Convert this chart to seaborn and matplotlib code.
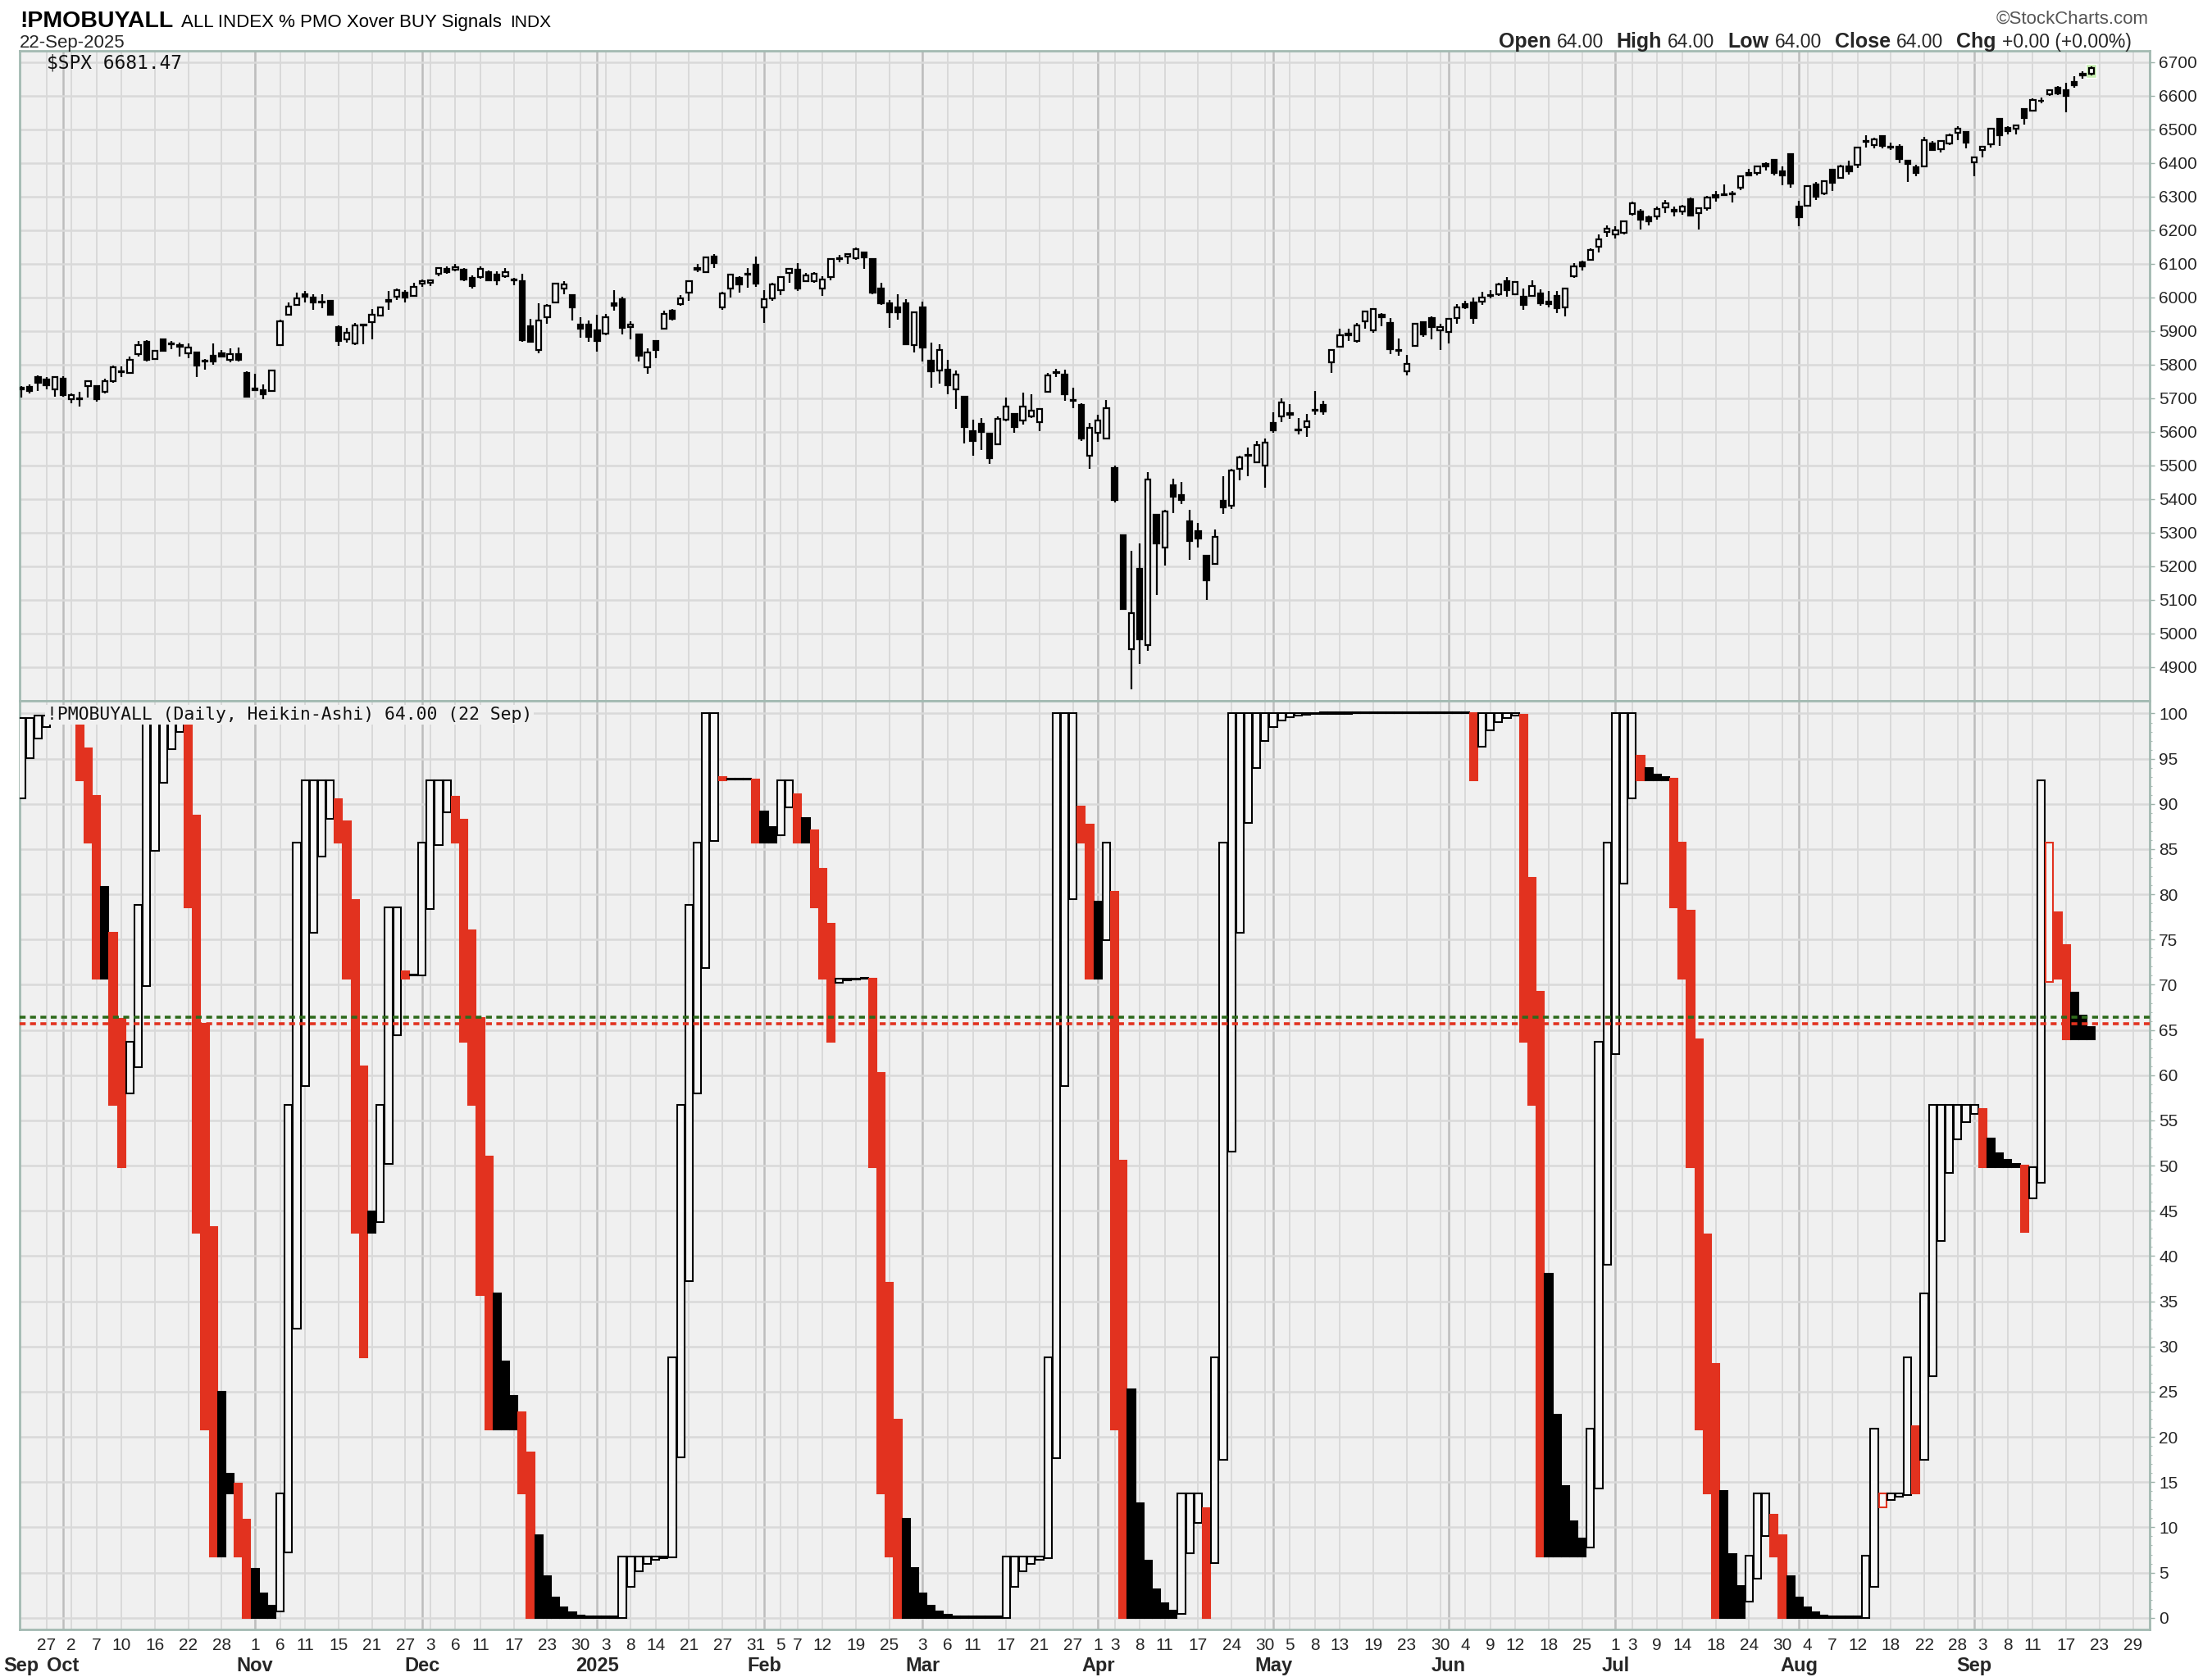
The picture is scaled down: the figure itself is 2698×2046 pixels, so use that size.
import numpy as np
import pandas as pd
import seaborn as sns
import matplotlib
matplotlib.use("Agg")
import matplotlib.pyplot as plt
import matplotlib.transforms as mtransforms

# ---- sessions on the chart -------------------------------------------------
holidays = ['2024-11-28', '2024-12-25', '2025-01-01', '2025-01-09', '2025-01-20',
            '2025-02-17', '2025-04-18', '2025-05-26', '2025-06-19', '2025-07-04',
            '2025-09-01']
first_day = '2024-09-24'
last_axis_day = '2025-09-30'

tick_dates = ['2024-09-27', '2024-10-02', '2024-10-07', '2024-10-10', '2024-10-16',
              '2024-10-22', '2024-10-28', '2024-11-01', '2024-11-06', '2024-11-11',
              '2024-11-15', '2024-11-21', '2024-11-27', '2024-12-03', '2024-12-06',
              '2024-12-11', '2024-12-17', '2024-12-23', '2024-12-30', '2025-01-03',
              '2025-01-08', '2025-01-14', '2025-01-21', '2025-01-27', '2025-01-31',
              '2025-02-05', '2025-02-07', '2025-02-12', '2025-02-19', '2025-02-25',
              '2025-03-03', '2025-03-06', '2025-03-11', '2025-03-17', '2025-03-21',
              '2025-03-27', '2025-04-01', '2025-04-03', '2025-04-08', '2025-04-11',
              '2025-04-17', '2025-04-24', '2025-04-30', '2025-05-05', '2025-05-08',
              '2025-05-13', '2025-05-19', '2025-05-23', '2025-05-30', '2025-06-04',
              '2025-06-09', '2025-06-12', '2025-06-18', '2025-06-25', '2025-07-01',
              '2025-07-03', '2025-07-09', '2025-07-14', '2025-07-18', '2025-07-24',
              '2025-07-30', '2025-08-04', '2025-08-07', '2025-08-12', '2025-08-18',
              '2025-08-22', '2025-08-28', '2025-09-03', '2025-09-08', '2025-09-11',
              '2025-09-17', '2025-09-23', '2025-09-29']
month_dates = ['2024-09-24', '2024-10-01', '2024-11-01', '2024-12-02', '2025-01-02',
               '2025-02-03', '2025-03-03', '2025-04-01', '2025-05-01', '2025-06-02',
               '2025-07-01', '2025-08-01', '2025-09-02']
month_names = ['Sep', 'Oct', 'Nov', 'Dec', '2025', 'Feb', 'Mar', 'Apr', 'May', 'Jun',
               'Jul', 'Aug', 'Sep']

# ---- $SPX daily candles (Sep 24 2024 .. Sep 22 2025) -----------------------
spx_open = [
    5727, 5733, 5762, 5756, 5727,
    5758, 5698, 5696, 5737, 5737, 5719, 5751, 5778, 5775, 5830, 5867, 5816, 5875, 5860,
    5857, 5833, 5835, 5810, 5826, 5833, 5814, 5832, 5775,
    5723, 5725, 5722, 5858, 5947, 5977, 6009, 6000, 5985, 5989, 5912, 5875, 5863, 5917,
    5927, 5945, 5992, 6001, 6015, 6004,
    6040, 6042, 6069, 6085, 6081, 6083, 6058, 6060, 6074, 6068, 6063, 6053, 6048, 5913,
    5843, 5941, 5985, 6025, 6007, 5920, 5920,
    5903, 5892, 5983, 5994, 5911, 5890, 5791, 5869, 5906, 5961, 5979, 6015, 6081, 6076,
    6121, 5970, 6026, 6058, 6068, 6096,
    5969, 5998, 6021, 6073, 6083, 6048, 6049, 6026, 6060, 6115, 6121, 6117, 6134, 6115,
    6027, 5982, 5971, 5982, 5857,
    5969, 5811, 5782, 5785, 5726, 5705, 5603, 5624, 5594, 5563, 5635, 5654, 5633, 5646,
    5630, 5719, 5775, 5771, 5695, 5679, 5528,
    5597, 5581, 5492, 5292, 4953, 5193, 4967, 5353, 5255, 5441, 5411, 5335, 5305, 5232,
    5207, 5395, 5381, 5489, 5529, 5509, 5499,
    5626, 5645, 5656, 5605, 5615, 5663, 5679, 5807, 5854, 5887, 5869, 5929, 5903, 5947,
    5924, 5841, 5781, 5855, 5925, 5939, 5903,
    5897, 5939, 5979, 5985, 5988, 6005, 6010, 6049, 6010, 6001, 6005, 6012, 5987, 6005,
    5970, 6062, 6105, 6112, 6151, 6194,
    6187, 6193, 6248, 6256, 6239, 6241, 6267, 6256, 6255, 6292, 6251, 6264, 6305, 6304,
    6307, 6327, 6369, 6370, 6397, 6409, 6374, 6427,
    6271, 6272, 6336, 6310, 6380, 6356, 6389, 6395, 6462, 6453, 6479, 6446, 6449, 6406,
    6387, 6389, 6458, 6441, 6458, 6489, 6492,
    6401, 6437, 6456, 6530, 6505, 6501, 6560, 6554, 6584, 6603, 6624, 6615, 6641, 6661,
    6665]
spx_high = [
    5736, 5741, 5767, 5764, 5763,
    5765, 5714, 5718, 5753, 5739, 5757, 5796, 5795, 5823, 5871, 5872, 5843, 5878, 5870,
    5866, 5863, 5835, 5817, 5862, 5843, 5848, 5851, 5780,
    5773, 5741, 5784, 5934, 5984, 6013, 6018, 6010, 6009, 5993, 5916, 5909, 5924, 5921,
    5964, 5973, 6020, 6025, 6021, 6044,
    6053, 6053, 6089, 6091, 6100, 6088, 6066, 6093, 6080, 6078, 6086, 6058, 6071, 5936,
    5982, 5979, 6040, 6049, 6007, 5941, 5930,
    5949, 5950, 6022, 6001, 5928, 5890, 5848, 5870, 5961, 5964, 6007, 6051, 6100, 6119,
    6128, 6017, 6070, 6063, 6086, 6121,
    6022, 6042, 6062, 6084, 6101, 6073, 6076, 6063, 6116, 6127, 6129, 6147, 6134, 6115,
    6044, 5993, 6009, 5994, 5959,
    5987, 5865, 5861, 5813, 5783, 5705, 5636, 5642, 5598, 5645, 5703, 5655, 5716, 5711,
    5671, 5775, 5787, 5786, 5732, 5685, 5627,
    5651, 5695, 5500, 5293, 5246, 5267, 5481, 5353, 5368, 5460, 5450, 5367, 5328, 5232,
    5310, 5469, 5489, 5528, 5553, 5572, 5581,
    5659, 5700, 5683, 5641, 5654, 5721, 5692, 5845, 5907, 5906, 5924, 5958, 5968, 5954,
    5939, 5878, 5829, 5922, 5929, 5944, 5922,
    5938, 5981, 5990, 5999, 6017, 6022, 6044, 6060, 6046, 6026, 6051, 6024, 6018, 6018,
    6028, 6101, 6109, 6146, 6187, 6215,
    6211, 6228, 6284, 6262, 6243, 6269, 6290, 6269, 6274, 6296, 6268, 6301, 6316, 6336,
    6316, 6360, 6381, 6390, 6401, 6410, 6390, 6427,
    6288, 6330, 6344, 6348, 6380, 6395, 6407, 6446, 6481, 6474, 6482, 6459, 6456, 6408,
    6394, 6478, 6466, 6466, 6486, 6508, 6492,
    6416, 6450, 6502, 6533, 6508, 6513, 6563, 6592, 6594, 6616, 6627, 6638, 6657, 6672,
    6686]
spx_low = [
    5702, 5713, 5722, 5727, 5704,
    5704, 5684, 5674, 5702, 5690, 5713, 5745, 5764, 5773, 5825, 5808, 5816, 5840, 5846,
    5824, 5820, 5762, 5784, 5799, 5823, 5806, 5810, 5702,
    5723, 5696, 5722, 5858, 5947, 5976, 5984, 5962, 5968, 5946, 5856, 5866, 5857, 5860,
    5876, 5943, 5963, 5993, 5985, 6003,
    6030, 6033, 6062, 6071, 6077, 6047, 6027, 6055, 6050, 6035, 6059, 6036, 5867, 5866,
    5833, 5921, 5983, 6008, 5932, 5879, 5868,
    5838, 5888, 5961, 5890, 5874, 5809, 5773, 5819, 5906, 5932, 5976, 5989, 6076, 6075,
    6088, 5962, 6000, 6013, 6029, 6031,
    5923, 5990, 6007, 6044, 6020, 6048, 6042, 6004, 6051, 6103, 6100, 6111, 6084, 6009,
    5977, 5909, 5933, 5858, 5837,
    5810, 5732, 5743, 5712, 5667, 5565, 5529, 5547, 5505, 5563, 5631, 5598, 5622, 5640,
    5603, 5719, 5764, 5693, 5670, 5572, 5489,
    5571, 5578, 5390, 5070, 4835, 4910, 4949, 5115, 5203, 5358, 5386, 5220, 5255, 5101,
    5207, 5356, 5371, 5455, 5468, 5506, 5433,
    5597, 5629, 5639, 5592, 5585, 5651, 5651, 5776, 5854, 5871, 5865, 5907, 5895, 5915,
    5830, 5826, 5767, 5855, 5882, 5875, 5843,
    5862, 5922, 5966, 5921, 5978, 5996, 6004, 6002, 6006, 5963, 6005, 5974, 5971, 5952,
    5943, 6059, 6079, 6109, 6133, 6180,
    6175, 6188, 6243, 6201, 6214, 6230, 6251, 6241, 6246, 6242, 6201, 6257, 6285, 6303,
    6281, 6318, 6360, 6363, 6376, 6363, 6333, 6327,
    6212, 6272, 6289, 6305, 6315, 6356, 6364, 6385, 6445, 6442, 6444, 6439, 6400, 6343,
    6361, 6386, 6438, 6431, 6452, 6468, 6444,
    6360, 6415, 6446, 6451, 6485, 6484, 6513, 6552, 6578, 6600, 6601, 6551, 6624, 6651,
    6660]
spx_close = [
    5732, 5722, 5745, 5738, 5762,
    5709, 5709, 5700, 5751, 5696, 5751, 5792, 5780, 5815, 5859, 5815, 5842, 5841, 5864,
    5853, 5851, 5797, 5809, 5808, 5823, 5832, 5813, 5705,
    5729, 5712, 5783, 5929, 5973, 5996, 6001, 5984, 5985, 5949, 5871, 5894, 5917, 5917,
    5949, 5970, 5987, 6021, 5999, 6032,
    6047, 6050, 6087, 6075, 6090, 6053, 6034, 6085, 6051, 6051, 6074, 6051, 5872, 5867,
    5931, 5974, 6040, 6038, 5971, 5907, 5882,
    5869, 5942, 5975, 5909, 5918, 5827, 5837, 5843, 5950, 5937, 5997, 6049, 6086, 6119,
    6101, 6012, 6068, 6039, 6071, 6041,
    5994, 6038, 6061, 6084, 6026, 6066, 6069, 6052, 6115, 6115, 6129, 6144, 6118, 6013,
    5983, 5955, 5956, 5861, 5955,
    5850, 5779, 5843, 5739, 5770, 5615, 5572, 5599, 5522, 5639, 5675, 5615, 5676, 5663,
    5668, 5768, 5777, 5712, 5693, 5581, 5612,
    5633, 5671, 5397, 5074, 5062, 4983, 5457, 5268, 5363, 5406, 5397, 5276, 5283, 5158,
    5288, 5376, 5485, 5525, 5529, 5561, 5569,
    5604, 5687, 5650, 5607, 5631, 5664, 5660, 5844, 5886, 5892, 5917, 5958, 5964, 5940,
    5845, 5842, 5802, 5922, 5889, 5912, 5912,
    5936, 5970, 5971, 5939, 6000, 6006, 6038, 6022, 6045, 5977, 6033, 5983, 5981, 5968,
    6025, 6092, 6092, 6141, 6173, 6205,
    6198, 6227, 6279, 6230, 6226, 6263, 6280, 6260, 6269, 6244, 6264, 6297, 6297, 6306,
    6309, 6359, 6363, 6389, 6390, 6371, 6362, 6339,
    6238, 6330, 6299, 6345, 6340, 6389, 6374, 6446, 6466, 6469, 6450, 6449, 6411, 6396,
    6370, 6467, 6439, 6466, 6481, 6502, 6460,
    6416, 6448, 6502, 6482, 6495, 6512, 6532, 6587, 6584, 6615, 6607, 6600, 6631, 6664,
    6681]

# ---- !PMOBUYALL daily value (= Heikin-Ashi close) --------------------------
pmo_first_open = 90.6
pmo_close = [
    99.5, 99.5, 99.8, 99.8, 99.8, 99.8, 99.8, 92.6, 85.7, 70.7,
    70.7, 56.7, 49.8, 63.7, 78.8, 99.8, 99.8, 99.8, 99.8, 99.8,
    78.6, 42.6, 20.8, 6.8, 6.8, 13.8, 6.8, 0, 0, 0,
    0, 13.8, 56.7, 85.7, 92.6, 92.6, 92.6, 92.6, 85.7, 70.7,
    42.6, 28.8, 42.6, 56.7, 78.6, 78.6, 70.7, 71.0, 85.7, 92.6,
    92.6, 92.6, 85.7, 63.7, 56.7, 35.7, 20.8, 20.8, 20.8, 20.8,
    13.8, 0, 0, 0, 0, 0, 0, 0, 0, 0,
    0, 0, 6.8, 6.8, 6.8, 6.8, 6.8, 6.8, 28.8, 56.7,
    78.8, 85.7, 100, 100, 92.6, 92.7, 92.7, 92.7, 85.7, 85.7,
    85.7, 92.6, 92.6, 85.7, 85.7, 78.6, 70.7, 63.7, 70.7, 70.7,
    70.7, 70.7, 49.8, 13.8, 6.8, 0, 0, 0, 0, 0,
    0, 0, 0, 0, 0, 0, 0, 0, 6.8, 6.8,
    6.8, 6.8, 6.8, 28.8, 100, 100, 100, 85.7, 70.7, 70.7,
    85.7, 20.8, 0, 0, 0, 0, 0, 0, 0, 13.8,
    13.8, 13.8, 0, 28.8, 85.7, 100, 100, 100, 100, 100,
    100, 100, 100, 100, 100, 100, 100, 100, 100, 100,
    100, 100, 100, 100, 100, 100, 100, 100, 100, 100,
    100, 100, 100, 100, 92.6, 100, 100, 100, 100, 100,
    63.7, 56.7, 6.8, 6.8, 6.8, 6.8, 6.8, 6.8, 20.9, 63.7,
    85.7, 100, 100, 100, 92.6, 92.6, 92.6, 92.6, 78.6, 70.7,
    49.8, 20.8, 13.8, 0, 0, 0, 0, 6.9, 13.8, 13.8,
    6.8, 0, 0, 0, 0, 0, 0, 0, 0, 0,
    0, 6.9, 20.9, 13.8, 13.8, 13.8, 28.8, 13.8, 35.9, 56.7,
    56.7, 56.7, 56.7, 56.7, 56.7, 49.8, 49.8, 49.8, 49.8, 49.8,
    42.7, 49.8, 92.6, 85.7, 70.7, 64, 64, 64, 64]
ref_green = 66.4
ref_red = 65.7

# ---- colours ---------------------------------------------------------------
PANEL = '#f0f0f0'
GRID = '#d9d9d9'
MONTH_GRID = '#bdbdbd'
BORDER = '#a3bab2'
RED = '#e2321f'
HOLLOW = '#f6f6f6'

sns.set_style("white")
plt.rcParams['font.family'] = ['Liberation Sans Narrow', 'Liberation Sans', 'DejaVu Sans']

sessions = pd.bdate_range(first_day, last_axis_day)
sessions = sessions[~sessions.isin(pd.to_datetime(holidays))]
pos = {d: i for i, d in enumerate(sessions)}
tick_pos = [pos[pd.Timestamp(d)] for d in tick_dates]
tick_lab = [str(pd.Timestamp(d).day) for d in tick_dates]
month_pos = [pos[pd.Timestamp(d)] for d in month_dates]

fig = plt.figure(figsize=(26.98, 20.46), dpi=100)
ax1 = fig.add_axes([0.0089, 0.5821, 0.9629, 0.3876])
ax2 = fig.add_axes([0.0089, 0.0283, 0.9629, 0.5538], sharex=ax1)

for ax in (ax1, ax2):
    ax.set_facecolor(PANEL)
    for s in ax.spines.values():
        s.set_color(BORDER)
        s.set_linewidth(2)
    for p in tick_pos:
        ax.axvline(p, color=GRID, lw=1.4, zorder=0)
    for p in month_pos[1:]:
        ax.axvline(p, color=MONTH_GRID, lw=1.8, zorder=0)
    ax.yaxis.tick_right()
    ax.grid(axis='y', color=GRID, lw=1.8, zorder=0)
    ax.set_axisbelow(True)
    ax.tick_params(axis='y', which='major', length=4, width=1, color='#9bb0a8',
                   labelsize=15, pad=4)

ax1.set_xlim(-0.2, 255.0)

# ---- upper panel: $SPX candles -------------------------------------------
o = np.array(spx_open, float)
h = np.array(spx_high, float)
l = np.array(spx_low, float)
c = np.array(spx_close, float)
xs = np.arange(len(c))
ax1.bar(xs[-1], 42, bottom=6652, width=1.3, color='#c8f0b2', zorder=1)
ax1.vlines(xs, l, h, color='black', lw=1.6, zorder=3)
filled = c < o
ax1.bar(xs, np.maximum(np.abs(c - o), 1.5), bottom=np.minimum(o, c), width=0.62,
        color=np.where(filled, 'black', HOLLOW), edgecolor='black', linewidth=1.6, zorder=4)
ax1.set_ylim(4800, 6733)
ax1.set_yticks(np.arange(4900, 6701, 100))
ax1.tick_params(axis='x', bottom=False, labelbottom=False)
ax1.text(0.0126, 0.981, '$SPX 6681.47', transform=ax1.transAxes, family='DejaVu Sans Mono',
         fontsize=16.5, va='center', ha='left', color='#111111')

# ---- lower panel: Heikin-Ashi bars ---------------------------------------
hc = np.array(pmo_close, float)
ho = np.empty_like(hc)
ho[0] = pmo_first_open
for i in range(1, len(hc)):
    ho[i] = (ho[i - 1] + hc[i - 1]) / 2
prev = np.r_[hc[0], hc[:-1]]
is_red = hc < prev
is_up = hc >= ho
faces = [HOLLOW if up else (RED if r else 'black') for up, r in zip(is_up, is_red)]
edges = [RED if r else 'black' for r in is_red]
xp = np.arange(len(hc))
ax2.bar(xp, np.maximum(np.abs(hc - ho), 0.12), bottom=np.minimum(ho, hc), width=0.9,
        color=faces, edgecolor=edges, linewidth=1.5, zorder=4)
ax2.axhline(ref_green, color='#2f6a1c', lw=2.6, ls=(0, (2.0, 1.5)), zorder=5)
ax2.axhline(ref_red, color=RED, lw=2.6, ls=(0, (2.0, 1.5)), zorder=5)
ax2.set_ylim(-1.3, 101.4)
ax2.set_yticks(np.arange(0, 101, 5))
ax2.set_yticks(np.arange(0, 101, 1), minor=True)
ax2.tick_params(axis='y', which='minor', length=2, color='#9bb0a8', right=True)
ax2.text(0.0126, 0.985, '!PMOBUYALL (Daily, Heikin-Ashi) 64.00 (22 Sep)',
         transform=ax2.transAxes, family='DejaVu Sans Mono', fontsize=15.4, va='center',
         ha='left', color='#111111', zorder=10,
         bbox=dict(facecolor=PANEL, edgecolor='none', pad=1.5))

ax2.set_xticks(tick_pos)
ax2.set_xticklabels(tick_lab)
ax2.tick_params(axis='x', length=4, width=1, color='#9bb0a8', labelsize=15, pad=3)
trans = mtransforms.blended_transform_factory(ax2.transData, ax2.transAxes)
for p, name in zip(month_pos, month_names):
    ax2.annotate(name, xy=(p, 0), xycoords=trans, xytext=(0, -24),
                 textcoords='offset points', ha='center', va='top',
                 fontsize=17, fontweight='bold', annotation_clip=False)

# ---- header --------------------------------------------------------------
renderer = fig.canvas.get_renderer()
W = fig.bbox.width


def put_row(pieces, x0, y, gap_px):
    # lay out text pieces left to right, measuring each one
    x = x0
    for txt, size, bold, color in pieces:
        t = fig.text(x, y, txt, fontsize=size, fontweight='bold' if bold else 'normal',
                     va='baseline', color=color)
        bb = t.get_window_extent(renderer)
        x = bb.x1 / W + gap_px / W
    return x


put_row([('!PMOBUYALL', 20.5, True, 'black'),
         ('ALL INDEX % PMO Xover BUY Signals', 16, False, 'black'),
         ('INDX', 15, False, 'black')], 0.0089, 0.984, 10)
fig.text(0.0089, 0.9715, '22-Sep-2025', fontsize=16, va='baseline')
fig.text(0.9715, 0.986, '\u00a9StockCharts.com', fontsize=16, va='baseline', ha='right',
         color='#555555')

ohlc = [('Open', 18, True), ('64.00', 16.5, False), ('High', 18, True),
        ('64.00', 16.5, False), ('Low', 18, True), ('64.00', 16.5, False),
        ('Close', 18, True), ('64.00', 16.5, False), ('Chg', 18, True),
        ('+0.00 (+0.00%)', 16.5, False)]
# measure total width first, then right-align the row
widths = []
for txt, size, bold in ohlc:
    t = fig.text(0, 0, txt, fontsize=size, fontweight='bold' if bold else 'normal')
    widths.append(t.get_window_extent(renderer).width)
    t.remove()
gaps = [7 if k % 2 == 0 else 16 for k in range(len(ohlc) - 1)]
total = sum(widths) + sum(gaps)
x = 0.9635 * W - total
for k, (txt, size, bold) in enumerate(ohlc):
    fig.text(x / W, 0.9715, txt, fontsize=size, fontweight='bold' if bold else 'normal',
             va='baseline')
    x += widths[k] + (gaps[k] if k < len(gaps) else 0)

fig.savefig('out.png', dpi=100, facecolor='white')
